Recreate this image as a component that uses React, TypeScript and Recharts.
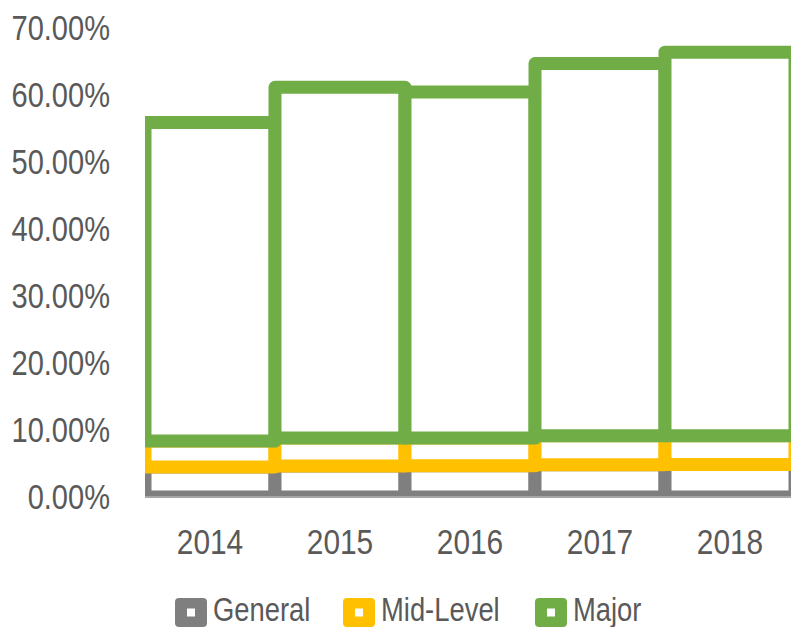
import { Bar, BarChart, Legend, XAxis, YAxis } from 'recharts'

const years = ['2014', '2015', '2016', '2017', '2018']
const general = [4.47, 4.62, 4.65, 4.81, 4.84]
const midLevel = [3.87, 4.17, 4.14, 4.32, 4.28]
const major = [47.5, 52.3, 51.6, 55.5, 57.2]
const yTicks = [0, 10, 20, 30, 40, 50, 60, 70]

const SERIES = [
  { key: 'general', name: 'General', color: '#7f7f7f' },
  { key: 'midLevel', name: 'Mid-Level', color: '#ffc000' },
  { key: 'major', name: 'Major', color: '#70ad47' },
]

const data = years.map((year, i) => ({
  year,
  general: general[i],
  midLevel: midLevel[i],
  major: major[i],
}))

const FONT = "'Liberation Sans', Arial, sans-serif"
const TEXT = '#595959'
// the reference uses a narrow face; squeeze the regular one
const SQUEEZE = 0.83

function YTick({ x, y, payload }: any) {
  return (
    <text
      transform={`translate(${x},${y}) scale(${SQUEEZE},1)`}
      dy="0.355em"
      textAnchor="end"
      fontSize={35}
      fill={TEXT}
    >
      {Number(payload.value).toFixed(2) + '%'}
    </text>
  )
}

function XTick({ x, y, payload }: any) {
  return (
    <text
      transform={`translate(${x},${y}) scale(${SQUEEZE},1)`}
      dy="0.71em"
      textAnchor="middle"
      fontSize={36}
      fill={TEXT}
    >
      {payload.value}
    </text>
  )
}

// legend item offsets from the legend's left edge
const legendX = [0, 168, 360]

function LegendBox() {
  return (
    <svg width={520} height={35} style={{ display: 'block', overflow: 'visible' }}>
      {SERIES.map((s, i) => (
        <g key={s.key} transform={`translate(${legendX[i]},0)`}>
          <rect x={0} y={6} width={32} height={29} rx={4} fill={s.color} />
          <rect x={12} y={16.5} width={8} height={8} fill="#fff" />
          <text
            transform={`translate(38,28.5) scale(${SQUEEZE},1)`}
            fontSize={33}
            fill={TEXT}
          >
            {s.name}
          </text>
        </g>
      ))}
    </svg>
  )
}

export default function App() {
  return (
    <div
      style={{
        position: 'absolute',
        left: 0,
        top: 0,
        width: 791,
        height: 627,
        overflow: 'hidden',
        background: '#fff',
        fontFamily: FONT,
      }}
    >
      <BarChart
        width={800}
        height={627}
        data={data}
        margin={{ top: 27.5, right: 5, left: 0, bottom: 0 }}
        barCategoryGap={0}
        barGap={0}
      >
        <XAxis
          dataKey="year"
          height={95}
          tickLine={false}
          tickSize={0}
          tickMargin={31}
          axisLine={{ stroke: '#a6a6a6', strokeWidth: 2 }}
          tick={<XTick />}
          allowDataOverflow
        />
        <YAxis
          width={145}
          domain={[0, 70]}
          ticks={yTicks}
          allowDataOverflow
          axisLine={false}
          tickLine={false}
          tickSize={0}
          tickMargin={35}
          tick={<YTick />}
        />
        {SERIES.map((s) => (
          <Bar
            key={s.key}
            dataKey={s.key}
            name={s.name}
            stackId="a"
            fill="#ffffff"
            stroke={s.color}
            strokeWidth={13}
            strokeLinejoin="round"
            isAnimationActive={false}
          />
        ))}
        <Legend
          verticalAlign="bottom"
          content={() => <LegendBox />}
          wrapperStyle={{ top: 592, bottom: 'auto', left: 175, width: 'auto', height: 35 }}
        />
      </BarChart>
    </div>
  )
}
